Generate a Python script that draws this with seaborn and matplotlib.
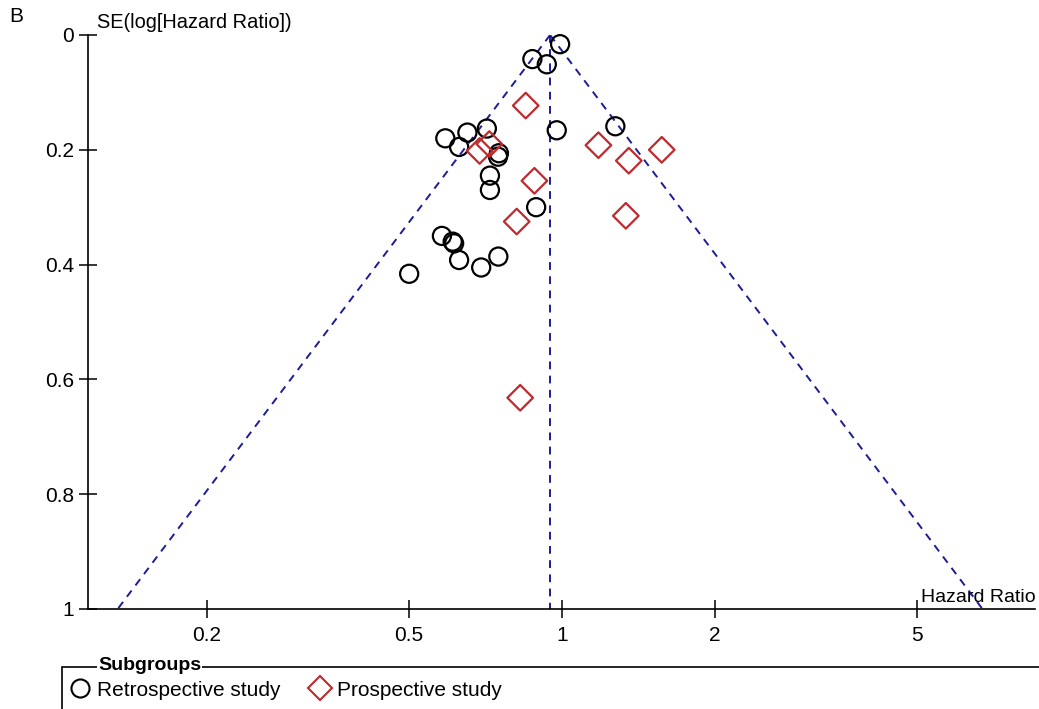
import numpy as np
import pandas as pd
import matplotlib
matplotlib.use("Agg")
import matplotlib.pyplot as plt
import seaborn as sns
from matplotlib.patches import Rectangle
from matplotlib.lines import Line2D

# ---- data ----
retro_hr = [0.991, 0.874, 0.933, 0.976, 1.273, 0.711, 0.651, 0.589, 0.627, 0.751,
            0.748, 0.721, 0.721, 0.889, 0.580, 0.609, 0.613, 0.627, 0.693, 0.749, 0.500]
retro_se = [0.016, 0.042, 0.051, 0.166, 0.159, 0.163, 0.170, 0.180, 0.195, 0.206,
            0.212, 0.245, 0.270, 0.300, 0.350, 0.360, 0.363, 0.392, 0.405, 0.386, 0.416]
prosp_hr = [0.848, 0.688, 0.719, 1.179, 1.353, 1.571, 0.882, 0.814, 1.335, 0.827]
prosp_se = [0.123, 0.202, 0.190, 0.192, 0.219, 0.200, 0.254, 0.325, 0.315, 0.632]
pooled_hr = 0.947
x_ticks = [0.2, 0.5, 1, 2, 5]
x_tick_labels = ["0.2", "0.5", "1", "2", "5"]
y_ticks = [0, 0.2, 0.4, 0.6, 0.8, 1]
y_tick_labels = ["0", "0.2", "0.4", "0.6", "0.8", "1"]
groups = ["Retrospective study", "Prospective study"]

df = pd.DataFrame({
    "hr": retro_hr + prosp_hr,
    "se": retro_se + prosp_se,
    "group": [groups[0]] * len(retro_hr) + [groups[1]] * len(prosp_hr),
})

sns.set_style("white")
plt.rcParams["font.family"] = ["Liberation Sans", "DejaVu Sans"]
plt.rcParams["text.color"] = "black"
plt.rcParams["xtick.color"] = "black"
plt.rcParams["ytick.color"] = "black"
narrow = ["Liberation Sans Narrow", "Liberation Sans", "DejaVu Sans"]

W, H = 1039, 709
fig = plt.figure(figsize=(W / 100, H / 100), dpi=100)
ax = fig.add_axes([88 / W, 1 - 609 / H, (1035 - 88) / W, (609 - 35) / H])

navy = "#1c1c96"
red = "#BE2A2E"

# funnel
se_line = np.array([0.0, 1.0])
dash = (0, (4, 3.3))
ax.plot(pooled_hr * np.exp(-1.96 * se_line), se_line, ls=dash, color=navy, lw=1.4)
ax.plot(pooled_hr * np.exp(1.96 * se_line), se_line, ls=dash, color=navy, lw=1.4)
ax.plot([pooled_hr, pooled_hr], [0, 1], ls=dash, color=navy, lw=1.4)

sns.scatterplot(data=df, x="hr", y="se", hue="group", style="group",
                hue_order=groups, style_order=groups,
                palette={groups[0]: "black", groups[1]: red},
                markers={groups[0]: "o", groups[1]: "D"},
                s=170, linewidth=1.6, ax=ax, clip_on=False,
                legend=False, zorder=5)
for c in ax.collections:
    fc = c.get_facecolors()
    c.set_edgecolors(fc)
    c.set_facecolor("none")

ax.set_xscale("log")
ax.set_xlim(0.1166, 8.53)
ax.set_ylim(1, 0)
ax.set_xticks(x_ticks)
ax.set_xticklabels(x_tick_labels)
ax.xaxis.set_minor_locator(matplotlib.ticker.NullLocator())
ax.set_yticks(y_ticks)
ax.set_yticklabels(y_tick_labels)
ax.set_xlabel("")
ax.set_ylabel("")

for s in ["top", "right"]:
    ax.spines[s].set_visible(False)
for s in ["left", "bottom"]:
    ax.spines[s].set_color("black")
    ax.spines[s].set_linewidth(1.2)

ax.tick_params(axis="x", bottom=True, direction="inout", length=13, width=1.1, pad=5.5,
               labelsize=15)
ax.tick_params(axis="y", left=True, direction="inout", length=13, width=1.1, pad=3.5,
               labelsize=15)
for lab in ax.get_xticklabels() + ax.get_yticklabels():
    lab.set_family(narrow)

# axis titles
fig.text(97 / W, 1 - 22 / H, "SE(log[Hazard Ratio])", fontsize=14.4, va="center", ha="left")
fig.text(1036 / W, 1 - 597 / H, "Hazard Ratio", fontsize=14, va="center", ha="right",
         family=narrow)
fig.text(16 / W, 1 - 17 / H, "B", fontsize=15, va="center", ha="center")

# legend box (fieldset style)
fig.patches.append(Rectangle((62 / W, -0.05), 1.2, (709 - 667) / H + 0.05,
                             transform=fig.transFigure, fill=False,
                             edgecolor="black", lw=1.2))
fig.text(98 / W, 1 - 666 / H, "Subgroups", fontsize=14, fontweight="bold",
         va="center", ha="left", family=narrow,
         bbox=dict(facecolor="white", edgecolor="none", pad=1))

handles = [Line2D([], [], marker="o", ls="none", markersize=13, markerfacecolor="none",
                  markeredgecolor="black", markeredgewidth=1.5),
           Line2D([], [], marker="D", ls="none", markersize=12, markerfacecolor="none",
                  markeredgecolor=red, markeredgewidth=1.5)]
fig.legend(handles, groups, loc="center left", bbox_to_anchor=(49 / W, 1 - 690 / H),
           ncol=2, frameon=False, handletextpad=0.2, columnspacing=1.3,
           handlelength=1.2, prop={"family": narrow, "size": 15})

fig.savefig("out.png", dpi=100)
